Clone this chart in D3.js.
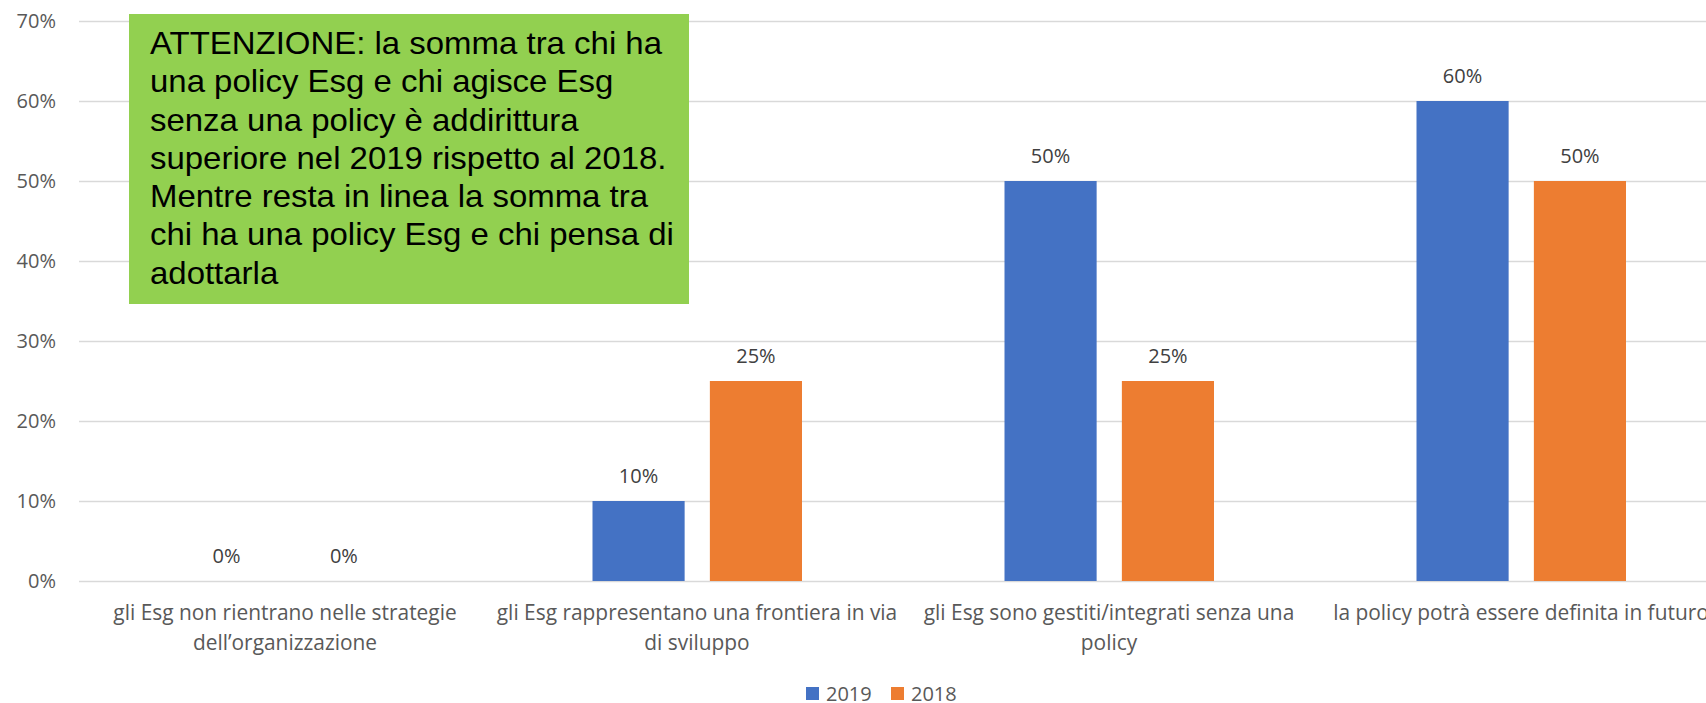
<!DOCTYPE html>
<html>
<head>
<meta charset="utf-8">
<script src="https://cdn.jsdelivr.net/npm/d3@7"></script>
<style>
  body { margin: 0; background: #fff; }
  svg { display: block; }
</style>
</head>
<body>
<svg id="chart" width="1706" height="703"></svg>
<script>
// categories (x labels, already split the way the original wraps them)
const categories = [
  "gli Esg non rientrano nelle strategie dell’organizzazione",
  "gli Esg rappresentano una frontiera in via di sviluppo",
  "gli Esg sono gestiti/integrati senza una policy",
  "la policy potrà essere definita in futuro"
];
const categoryLines = [
  ["gli Esg non rientrano nelle strategie", "dell’organizzazione"],
  ["gli Esg rappresentano una frontiera in via", "di sviluppo"],
  ["gli Esg sono gestiti/integrati senza una", "policy"],
  ["la policy potrà essere definita in futuro"]
];
const seriesNames = ["2019", "2018"];
const values2019 = [0, 0.10, 0.50, 0.60];
const values2018 = [0, 0.25, 0.25, 0.50];
const yTicks = [0, 0.1, 0.2, 0.3, 0.4, 0.5, 0.6, 0.7];
const colors = ["#4472C4", "#ED7D31"];

const noteLines = [
  "ATTENZIONE: la somma tra chi ha",
  "una policy Esg e chi agisce Esg",
  "senza una policy è addirittura",
  "superiore nel 2019 rispetto al 2018.",
  "Mentre resta in linea la somma tra",
  "chi ha una policy Esg e chi pensa di",
  "adottarla"
];

const svg = d3.select("#chart");
const axisFont = "'Open Sans', sans-serif";

// plot area (runs past the right edge, like the original)
const plotLeft = 79, plotRight = 1727, plotTop = 21, plotBottom = 581;

const x0 = d3.scaleBand().domain(categories).range([plotLeft, plotRight]).padding(0);
const x1 = d3.scaleBand().domain(seriesNames).range([101.5, 311]).paddingInner(0.215);
const y = d3.scaleLinear().domain([0, 0.7]).range([plotBottom, plotTop]);

// gridlines
const grid = svg.append("g")
  .attr("transform", `translate(${plotLeft},0)`)
  .call(d3.axisLeft(y).tickValues(yTicks).tickSize(-(plotRight - plotLeft)).tickFormat(""));
grid.select(".domain").remove();
grid.selectAll("line").attr("stroke", "#d9d9d9").attr("stroke-width", 1.5);

// y axis labels
const yAxis = svg.append("g")
  .attr("transform", `translate(${plotLeft},0)`)
  .call(d3.axisLeft(y).tickValues(yTicks).tickSize(0).tickPadding(23).tickFormat(d3.format(".0%")));
yAxis.select(".domain").remove();
yAxis.selectAll("text")
  .attr("font-family", axisFont)
  .attr("font-size", 20)
  .attr("fill", "#595959");

// bars
const data = categories.map((c, i) => ({
  cat: c,
  vals: [
    { key: seriesNames[0], v: values2019[i] },
    { key: seriesNames[1], v: values2018[i] }
  ]
}));

const groups = svg.append("g").selectAll("g")
  .data(data)
  .join("g")
  .attr("transform", d => `translate(${x0(d.cat)},0)`);

groups.selectAll("rect")
  .data(d => d.vals)
  .join("rect")
  .attr("x", d => x1(d.key))
  .attr("y", d => y(d.v))
  .attr("width", x1.bandwidth())
  .attr("height", d => y(0) - y(d.v))
  .attr("fill", (d, i) => colors[i]);

groups.selectAll("text")
  .data(d => d.vals)
  .join("text")
  .attr("x", d => x1(d.key) + x1.bandwidth() / 2)
  .attr("y", d => y(d.v) - 18)
  .attr("text-anchor", "middle")
  .attr("font-family", axisFont)
  .attr("font-size", 20)
  .attr("fill", "#404040")
  .text(d => d3.format(".0%")(d.v));

// x axis labels
const xAxis = svg.append("g")
  .attr("transform", `translate(0,${plotBottom})`)
  .call(d3.axisBottom(x0).tickSize(0).tickFormat(""));
xAxis.select(".domain").remove();
xAxis.selectAll(".tick text").remove();
xAxis.selectAll(".tick").append("text")
  .attr("y", 39)
  .attr("text-anchor", "middle")
  .attr("font-family", axisFont)
  .attr("font-size", 20.9)
  .attr("fill", "#595959")
  .each(function (d, i) {
    const t = d3.select(this);
    categoryLines[i].forEach((line, j) => {
      t.append("tspan").attr("x", 0).attr("dy", j === 0 ? 0 : 30).text(line);
    });
  });

// legend
const legend = svg.append("g").attr("transform", "translate(806,687)");
const item = legend.selectAll("g")
  .data(seriesNames)
  .join("g")
  .attr("transform", (d, i) => `translate(${i * 85},0)`);
item.append("rect").attr("width", 13).attr("height", 13).attr("fill", (d, i) => colors[i]);
item.append("text")
  .attr("x", 20)
  .attr("y", 14)
  .attr("font-family", axisFont)
  .attr("font-size", 20)
  .attr("fill", "#595959")
  .text(d => d);

// green note box
const note = svg.append("g");
note.append("rect")
  .attr("x", 129).attr("y", 14)
  .attr("width", 560).attr("height", 290)
  .attr("fill", "#92D050");
note.append("text")
  .attr("transform", "translate(150,0) scale(1.063,1)")
  .attr("font-family", "'Liberation Sans', Arial, sans-serif")
  .attr("font-size", 31)
  .attr("fill", "#000")
  .selectAll("tspan")
  .data(noteLines)
  .join("tspan")
  .attr("x", 0)
  .attr("y", (d, i) => 54 + i * 38.3)
  .text(d => d);
</script>
</body>
</html>
